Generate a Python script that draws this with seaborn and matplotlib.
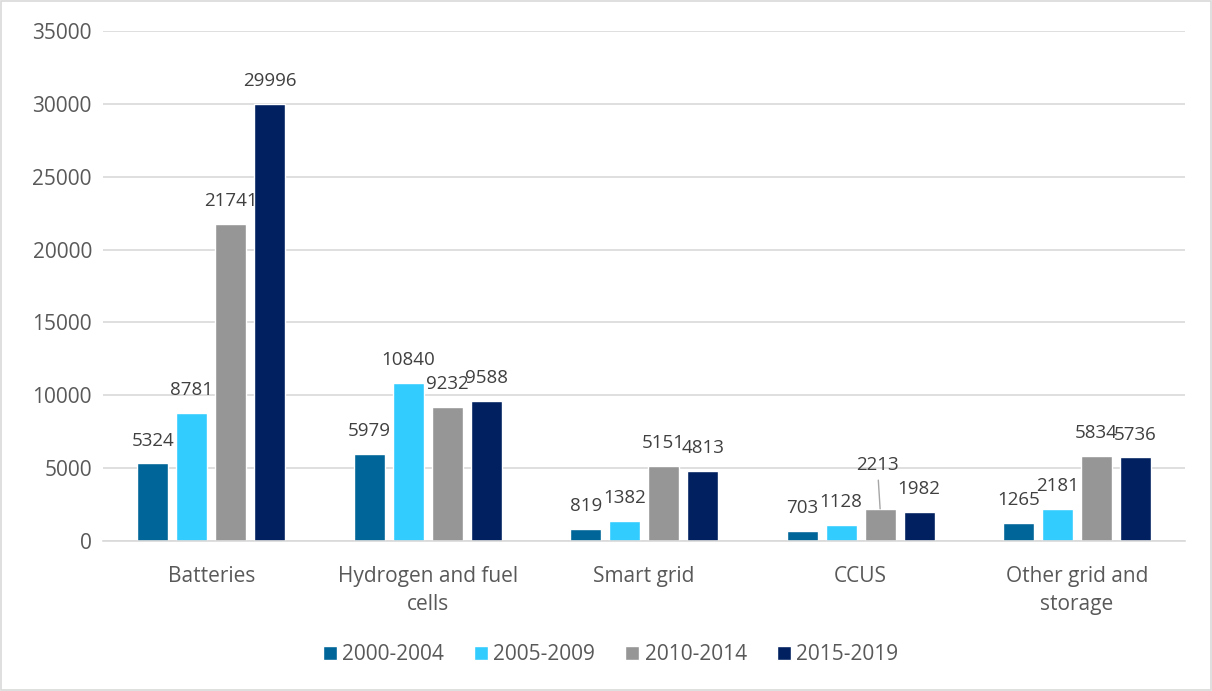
import numpy as np
import pandas as pd
import matplotlib
matplotlib.use("Agg")
import matplotlib.pyplot as plt
import seaborn as sns

categories = ["Batteries", "Hydrogen and fuel\ncells", "Smart grid", "CCUS", "Other grid and\nstorage"]
periods = ["2000-2004", "2005-2009", "2010-2014", "2015-2019"]
v_2000_2004 = [5324, 5979, 819, 703, 1265]
v_2005_2009 = [8781, 10840, 1382, 1128, 2181]
v_2010_2014 = [21741, 9232, 5151, 2213, 5834]
v_2015_2019 = [29996, 9588, 4813, 1982, 5736]
colors = ["#006699", "#33CCFF", "#969696", "#002060"]

series = [v_2000_2004, v_2005_2009, v_2010_2014, v_2015_2019]
rows = []
for p, vals in zip(periods, series):
    for c, v in zip(categories, vals):
        rows.append({"category": c, "period": p, "value": v})
df = pd.DataFrame(rows)

sns.set_style("white")
plt.rcParams["font.family"] = ["Open Sans", "DejaVu Sans"]

fig = plt.figure(figsize=(12.12, 6.91), dpi=100)
ax = fig.add_axes([0.085, 0.217, 0.893, 0.738])
fig.patches.append(plt.Rectangle((0.001, 0.001), 0.998, 0.997, transform=fig.transFigure,
                                 fill=False, edgecolor="#D9D9D9", linewidth=1.2))

sns.barplot(data=df, x="category", y="value", hue="period", palette=colors,
            width=0.72, gap=0.2, ax=ax, saturation=1, legend=True)

ax.set_ylim(0, 35000)
ax.set_yticks(np.arange(0, 35001, 5000))
ax.yaxis.grid(True, color="#D9D9D9", linewidth=1.2)
ax.set_axisbelow(True)
for s in ["top", "right", "left"]:
    ax.spines[s].set_visible(False)
ax.spines["bottom"].set_color("#D9D9D9")
ax.spines["bottom"].set_linewidth(1.2)
ax.tick_params(axis="both", length=0, labelsize=15, colors="#595959", pad=8)
ax.tick_params(axis="x", pad=18)
for lbl in ax.get_xticklabels():
    lbl.set_linespacing(1.45)
ax.set_xlabel("")
ax.set_ylabel("")

# value labels
for i, cont in enumerate(ax.containers):
    labels = []
    for j, bar in enumerate(cont):
        h = bar.get_height()
        if periods[i] == "2010-2014" and categories[j] == "CCUS":
            labels.append("")
            ax.annotate(f"{int(h)}", xy=(bar.get_x() + bar.get_width() / 2, h),
                        xytext=(-2, 25), textcoords="offset points", ha="center", va="bottom",
                        fontsize=13.5, color="#404040",
                        arrowprops=dict(arrowstyle="-", color="#A6A6A6", lw=1, shrinkA=2, shrinkB=0))
        else:
            labels.append(f"{int(h)}")
    ax.bar_label(cont, labels=labels, padding=10, fontsize=13.5, color="#404040")

leg = ax.legend(loc="upper center", bbox_to_anchor=(0.469, -0.165), ncol=4, frameon=False,
                fontsize=15, handlelength=0.67, handleheight=0.67, handletextpad=0.25,
                columnspacing=1.45)
for t in leg.get_texts():
    t.set_color("#595959")

plt.savefig("out.png", dpi=100)
